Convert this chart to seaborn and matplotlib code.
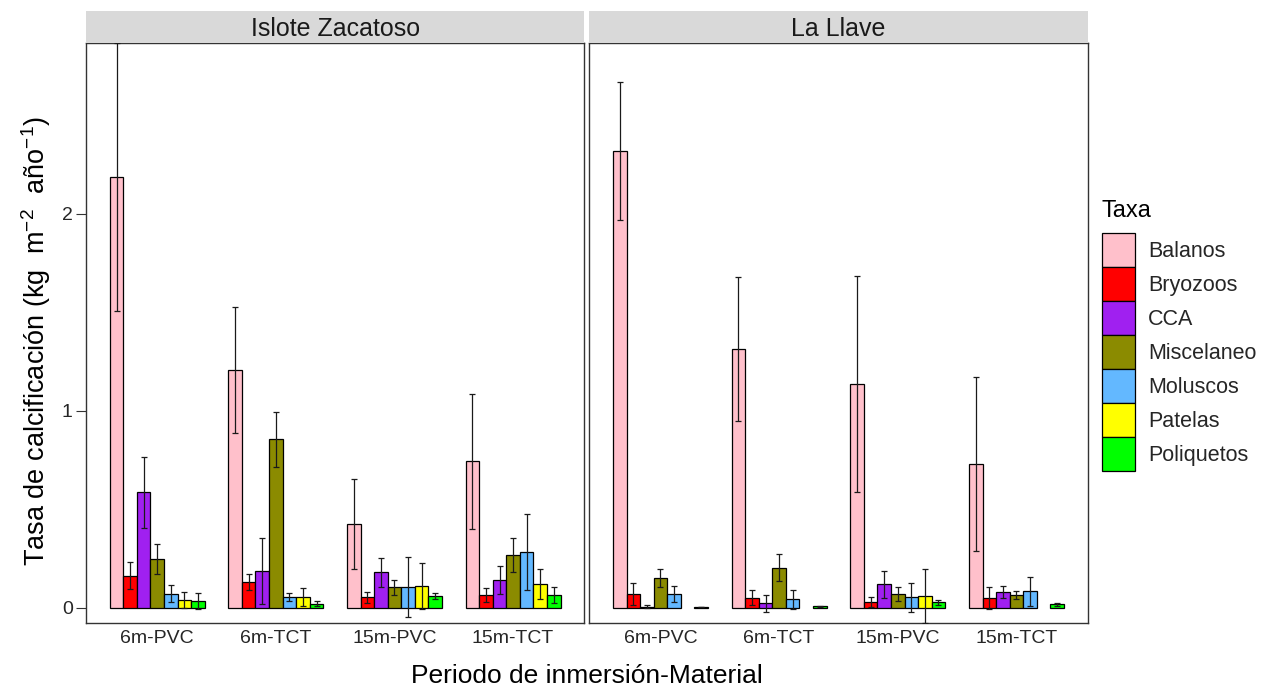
import numpy as np
import pandas as pd
import matplotlib
matplotlib.use("Agg")
import matplotlib.pyplot as plt
import seaborn as sns
from matplotlib.patches import Patch

# ---- data -------------------------------------------------------------
sitios = ["Islote Zacatoso", "La Llave"]
grupos = ["6m-PVC", "6m-TCT", "15m-PVC", "15m-TCT"]
taxa = ["Balanos", "Bryozoos", "CCA", "Miscelaneo", "Moluscos", "Patelas", "Poliquetos"]
colores = ["#FFC0CB", "#FF0000", "#A020F0", "#8B8B00", "#63B8FF", "#FFFF00", "#00FF00"]

# mean calcification rate (kg m-2 yr-1), one value per taxon in `taxa` order
iz_6m_pvc = [2.188, 0.163, 0.586, 0.246, 0.071, 0.041, 0.034]
iz_6m_tct = [1.208, 0.131, 0.186, 0.856, 0.056, 0.056, 0.021]
iz_15m_pvc = [0.425, 0.052, 0.179, 0.103, 0.103, 0.110, 0.061]
iz_15m_tct = [0.743, 0.063, 0.140, 0.267, 0.283, 0.120, 0.063]
ll_6m_pvc = [2.321, 0.069, 0.004, 0.150, 0.071, None, 0.004]
ll_6m_tct = [1.316, 0.051, 0.022, 0.203, 0.042, None, 0.007]
ll_15m_pvc = [1.135, 0.030, 0.118, 0.069, 0.054, 0.061, 0.027]
ll_15m_tct = [0.731, 0.049, 0.080, 0.066, 0.083, None, 0.017]

# standard deviations, same layout
iz_6m_pvc_sd = [0.680, 0.067, 0.181, 0.077, 0.044, 0.041, 0.043]
iz_6m_tct_sd = [0.320, 0.041, 0.168, 0.139, 0.020, 0.046, 0.011]
iz_15m_pvc_sd = [0.227, 0.028, 0.072, 0.039, 0.152, 0.117, 0.015]
iz_15m_tct_sd = [0.342, 0.036, 0.070, 0.088, 0.194, 0.077, 0.041]
ll_6m_pvc_sd = [0.350, 0.056, 0.008, 0.046, 0.040, None, 0.002]
ll_6m_tct_sd = [0.366, 0.037, 0.044, 0.069, 0.048, None, 0.004]
ll_15m_pvc_sd = [0.548, 0.024, 0.067, 0.034, 0.074, 0.137, 0.012]
ll_15m_tct_sd = [0.441, 0.057, 0.029, 0.021, 0.072, None, 0.008]

medias = {
    "Islote Zacatoso": [iz_6m_pvc, iz_6m_tct, iz_15m_pvc, iz_15m_tct],
    "La Llave": [ll_6m_pvc, ll_6m_tct, ll_15m_pvc, ll_15m_tct],
}
desvios = {
    "Islote Zacatoso": [iz_6m_pvc_sd, iz_6m_tct_sd, iz_15m_pvc_sd, iz_15m_tct_sd],
    "La Llave": [ll_6m_pvc_sd, ll_6m_tct_sd, ll_15m_pvc_sd, ll_15m_tct_sd],
}

filas = []
for sitio in sitios:
    for g, (m_list, s_list) in enumerate(zip(medias[sitio], desvios[sitio])):
        for t, (m, s) in enumerate(zip(m_list, s_list)):
            if m is None:
                continue
            filas.append({"sitio": sitio, "grupo": grupos[g], "taxa": taxa[t],
                          "tasa": m, "sd": s})
df = pd.DataFrame(filas)

# ---- style ------------------------------------------------------------
sns.set_theme(style="white")
plt.rcParams["font.family"] = ["Liberation Sans", "DejaVu Sans"]
plt.rcParams["mathtext.fontset"] = "custom"
plt.rcParams["mathtext.rm"] = "Liberation Sans"
plt.rcParams["mathtext.it"] = "Liberation Sans:italic"
plt.rcParams["mathtext.bf"] = "Liberation Sans:bold"

W, H = 1273, 687
fig = plt.figure(figsize=(W / 100, H / 100), dpi=100)

panel_top, panel_bot = 43.3, 622.7
strip_top = 11.0
paneles = [(86.0, 584.3), (589.3, 1087.6)]
paleta = dict(zip(taxa, colores))
ancho_total = 0.8
ymin, ymax = -0.0762, 2.867

for i, sitio in enumerate(sitios):
    x0, x1 = paneles[i]
    ax = fig.add_axes([x0 / W, 1 - panel_bot / H, (x1 - x0) / W, (panel_bot - panel_top) / H])
    sub = df[df["sitio"] == sitio]
    sns.barplot(data=sub, x="grupo", y="tasa", hue="taxa", order=grupos,
                hue_order=taxa, palette=paleta, saturation=1, width=ancho_total,
                errorbar=None, edgecolor="black", linewidth=0.9, legend=False, ax=ax)

    # error bars placed on the centres of the drawn bars
    xs, ys, es = [], [], []
    paso = ancho_total / len(taxa)
    for p in ax.patches:
        cx = p.get_x() + p.get_width() / 2
        g = int(round(cx))
        k = int(round((cx - g + ancho_total / 2) / paso - 0.5))
        fila = sub[(sub["grupo"] == grupos[g]) & (sub["taxa"] == taxa[k])]
        if fila.empty:
            continue
        xs.append(cx)
        ys.append(fila["tasa"].iloc[0])
        es.append(fila["sd"].iloc[0])
    ax.errorbar(xs, ys, yerr=es, fmt="none", ecolor="#1a1a1a", elinewidth=0.9,
                capsize=2.2, capthick=0.9, zorder=5)

    ax.set_xlim(-0.6, 3.6)
    ax.set_ylim(ymin, ymax)
    ax.set_yticks([0, 1, 2])
    ax.set_xlabel("")
    ax.set_ylabel("")
    for sp in ax.spines.values():
        sp.set_color("#333333")
        sp.set_linewidth(1.0)
    ax.tick_params(axis="x", length=0, pad=5, labelsize=14, labelcolor="#262626")
    if i == 0:
        ax.tick_params(axis="y", length=7, width=0.8, color="#333333", pad=2.5,
                       labelsize=14, labelcolor="#262626", left=True)
    else:
        ax.tick_params(axis="y", left=False, labelleft=False)

    # facet strip
    sax = fig.add_axes([x0 / W, 1 - panel_top / H, (x1 - x0) / W, (panel_top - strip_top) / H])
    sax.set_facecolor("#D9D9D9")
    sax.set_xticks([])
    sax.set_yticks([])
    for sp in sax.spines.values():
        sp.set_visible(False)
    sax.text(0.5, 0.45, sitio, ha="center", va="center", fontsize=18,
             color="#1A1A1A", transform=sax.transAxes)

# axis titles
fig.text(586.5 / W, 1 - 683 / H, "Periodo de inmersión-Material", ha="center",
         va="baseline", fontsize=19, color="black")
fig.text(36 / W, 1 - 341 / H, "Tasa de calcificación (kg  m$^{-2}$  año$^{-1}$)",
         ha="center", va="center", rotation=90, fontsize=19.5, color="black")

# legend: title drawn separately, keys stacked edge to edge
fs_leg = 15.5
fs_px = fs_leg * 100 / 72
alto_tecla = 34.0 / fs_px           # key cell height in font units
hh = (alto_tecla - 0.245) / 0.65    # matplotlib subtracts a descent term
manejadores = [Patch(facecolor=c, edgecolor="black", linewidth=0.9) for c in colores]
fig.text(1102 / W, 1 - 216.7 / H, "Taxa", ha="left", va="baseline", fontsize=17,
         color="black")
fig.legend(manejadores, taxa, loc="upper left",
           bbox_to_anchor=(1101.7 / W, 1 - 233.3 / H), frameon=False,
           fontsize=fs_leg, borderpad=0, borderaxespad=0, labelspacing=0,
           handlelength=33.3 / fs_px, handleheight=hh, handletextpad=0.6)

fig.savefig("out.png", dpi=100)
